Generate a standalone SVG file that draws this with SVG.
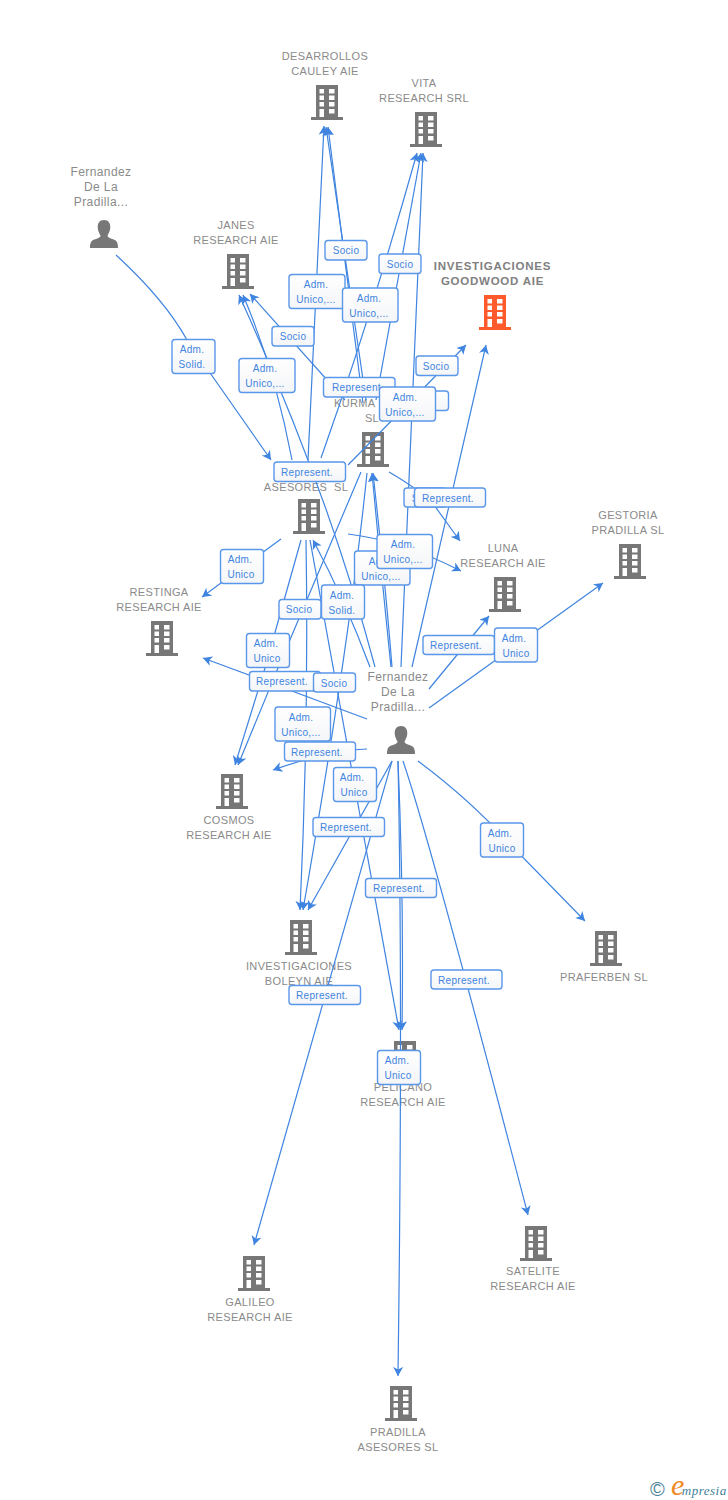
<svg xmlns="http://www.w3.org/2000/svg" width="728" height="1500" viewBox="0 0 728 1500">
<style>
text{font-family:"Liberation Sans",Arial,sans-serif}
.n{font-size:11px;fill:#8a8a8a;text-anchor:middle;letter-spacing:.35px;white-space:pre}
.m{font-size:12px;fill:#8a8a8a;text-anchor:middle;letter-spacing:.4px}
.nb{font-size:11.5px;fill:#808080;font-weight:bold;text-anchor:middle;letter-spacing:.75px}
.c path{fill:none;stroke:#3f84e0;stroke-width:1.2;marker-end:url(#a)}
.l rect{fill:url(#g);stroke:#5a97ea;stroke-width:1.4}
.l text{font-size:10px;fill:#3f84e0;text-anchor:middle;letter-spacing:.3px}
</style>
<defs>
<marker id="a" markerUnits="userSpaceOnUse" markerWidth="11" markerHeight="11" refX="9" refY="5" orient="auto"><path d="M9,5L0,0L2.500,5L0,10Z" fill="#3f84e0"/></marker>
<linearGradient id="g" x1="0" y1="0" x2="0" y2="1"><stop offset="0" stop-color="#fff"/><stop offset="1" stop-color="#f4f5f7"/></linearGradient>
<path id="b" fill-rule="evenodd" d="M5,0H27V32H32V35H0V32H5ZM8.500,4V8.500H13V4ZM18,4V8.500H23.500V4ZM8.500,10.500V15H13V10.500ZM18,10.500V15H23.500V10.500ZM8.500,17V21.500H13V17ZM18,17V21.500H23.500V17ZM8.500,24V32H13V24ZM18,24V28.500H23.500V24Z"/>
<path id="u" d="M14,0C18.500,0 20.500,3.500 20.300,7.500C20.200,11 18.500,13.500 17.500,15.500C17.500,17.500 20,18.300 23,19.300C26.500,20.500 28,22 28,28H0C0,22 1.500,20.500 5,19.300C8,18.300 10.500,17.500 10.500,15.500C9.500,13.500 7.800,11 7.700,7.500C7.500,3.500 9.500,0 14,0Z"/>
</defs>
<g id="desarrollos" fill="#777"><use href="#b" x="311" y="85"/><text class="n" x="325" y="60">DESARROLLOS</text><text class="n" x="325" y="75">CAULEY AIE</text></g>
<g id="vita" fill="#777"><use href="#b" x="410" y="112"/><text class="n" x="424" y="87">VITA</text><text class="n" x="424" y="102">RESEARCH SRL</text></g>
<g id="janes" fill="#777"><use href="#b" x="222" y="254"/><text class="n" x="236" y="229">JANES</text><text class="n" x="236" y="244">RESEARCH AIE</text></g>
<g id="goodwood" fill="#ff5a2c"><use href="#b" x="479" y="295"/><text class="nb" x="492.500" y="270">INVESTIGACIONES</text><text class="nb" x="492.500" y="285">GOODWOOD AIE</text></g>
<g id="fernandez-top" fill="#777"><use href="#u" x="90" y="220"/><text class="m" x="101" y="176">Fernandez</text><text class="m" x="101" y="191">De La</text><text class="m" x="101" y="206">Pradilla...</text></g>
<g id="kurma" fill="#777"><use href="#b" x="357" y="432"/><text class="n" x="334" y="407" style="text-anchor:start">KURMA</text><text class="n" x="372" y="422">SL</text></g>
<g id="asesores" fill="#777"><use href="#b" x="293" y="499"/><text class="n" x="306" y="491">ASESORES  SL</text></g>
<g id="luna" fill="#777"><use href="#b" x="489" y="577"/><text class="n" x="503" y="552">LUNA</text><text class="n" x="503" y="567">RESEARCH AIE</text></g>
<g id="gestoria" fill="#777"><use href="#b" x="614" y="544"/><text class="n" x="628" y="519">GESTORIA</text><text class="n" x="628" y="534">PRADILLA SL</text></g>
<g id="restinga" fill="#777"><use href="#b" x="146" y="621"/><text class="n" x="159" y="596">RESTINGA</text><text class="n" x="159" y="611">RESEARCH AIE</text></g>
<g id="fernandez-main" fill="#777"><use href="#u" x="387" y="726"/><text class="m" x="398" y="681">Fernandez</text><text class="m" x="398" y="696">De La</text><text class="m" x="398" y="711">Pradilla...</text></g>
<g id="cosmos" fill="#777"><use href="#b" x="216" y="774"/><text class="n" x="229" y="824">COSMOS</text><text class="n" x="229" y="839">RESEARCH AIE</text></g>
<g id="boleyn" fill="#777"><use href="#b" x="285" y="920"/><text class="n" x="299" y="970">INVESTIGACIONES</text><text class="n" x="299" y="985">BOLEYN AIE</text></g>
<g id="pelicano" fill="#777"><use href="#b" x="389" y="1041"/><text class="n" x="403" y="1091">PELICANO</text><text class="n" x="403" y="1106">RESEARCH AIE</text></g>
<g id="praferben" fill="#777"><use href="#b" x="590" y="931"/><text class="n" x="604" y="981">PRAFERBEN SL</text></g>
<g id="satelite" fill="#777"><use href="#b" x="520" y="1226"/><text class="n" x="533" y="1275">SATELITE</text><text class="n" x="533" y="1290">RESEARCH AIE</text></g>
<g id="galileo" fill="#777"><use href="#b" x="238" y="1256"/><text class="n" x="250" y="1306">GALILEO</text><text class="n" x="250" y="1321">RESEARCH AIE</text></g>
<g id="pradilla" fill="#777"><use href="#b" x="385" y="1386"/><text class="n" x="398" y="1436">PRADILLA</text><text class="n" x="398" y="1451">ASESORES SL</text></g>
<g id="connectors" class="c">
<path d="M116,255Q165,300 187,340L271,460"/>
<path d="M292,460Q275,370 243,295"/>
<path d="M375,667Q328,490 239,295"/>
<path d="M345,400L250,294"/>
<path d="M308,460L324,126"/>
<path d="M321,458Q370,320 417,153"/>
<path d="M363,403L328,127"/>
<path d="M366,400Q345,260 326,127"/>
<path d="M376,400L421,153"/>
<path d="M391,667Q383,590 372,473"/>
<path d="M392,667Q386,590 373,473"/>
<path d="M401,667Q408,520 423,153"/>
<path d="M412,667L486,345"/>
<path d="M348,465L466,345"/>
<path d="M389,472Q420,490 434,505L460,541"/>
<path d="M348,534Q400,540 461,571"/>
<path d="M281,539L202,597"/>
<path d="M301,540L265,668L235,765"/>
<path d="M361,472L278,668L238,765"/>
<path d="M367,473Q350,640 303,910"/>
<path d="M306,540Q309,720 300,910"/>
<path d="M310,540L399,1030"/>
<path d="M370,667Q345,600 313,540"/>
<path d="M392,761L308,910"/>
<path d="M367,719L203,658"/>
<path d="M367,749Q330,750 273,770"/>
<path d="M392,761L254,1245"/>
<path d="M398,761Q404,900 402,1030"/>
<path d="M398,761Q403,1000 398,1376"/>
<path d="M403,761Q430,840 528,1215"/>
<path d="M418,761Q470,800 506,840L585,921"/>
<path d="M429,708L603,583"/>
<path d="M429,689L489,616"/>
<g class="l"><rect x="325" y="240.500" width="42" height="19.500" rx="3"/><text x="346" y="254">Socio</text></g>
<g class="l"><rect x="379" y="254" width="42" height="19.500" rx="3"/><text x="400" y="267.500">Socio</text></g>
<g class="l"><rect x="289" y="274.500" width="56" height="34" rx="3"/><text x="316" y="288">Adm.</text><text x="316" y="303">Unico,...</text></g>
<g class="l"><rect x="342.500" y="288" width="55.500" height="34" rx="3"/><text x="369" y="301.500">Adm.</text><text x="369" y="316.500">Unico,...</text></g>
<g class="l"><rect x="272" y="326.500" width="42" height="19.500" rx="3"/><text x="293" y="340">Socio</text></g>
<g class="l"><rect x="172" y="339.500" width="43" height="34" rx="3"/><text x="192" y="353">Adm.</text><text x="192" y="368">Solid.</text></g>
<g class="l"><rect x="239" y="358.500" width="56" height="34" rx="3"/><text x="265" y="372">Adm.</text><text x="265" y="387">Unico,...</text></g>
<g class="l"><rect x="323.500" y="377.500" width="71.500" height="19.500" rx="3"/><text x="358" y="391">Represent.</text></g>
<g class="l"><rect x="416" y="356" width="42" height="19.500" rx="3"/><text x="436" y="369.500">Socio</text></g>
<g class="l"><rect x="406" y="391" width="42.500" height="19.500" rx="3"/><text x="419" y="404.500">Socio</text></g>
<g class="l"><rect x="379.500" y="387" width="56" height="34" rx="3"/><text x="405" y="400.500">Adm.</text><text x="405" y="415.500">Unico,...</text></g>
<g class="l"><rect x="274" y="462" width="71.500" height="19.500" rx="3"/><text x="307" y="475.500">Represent.</text></g>
<g class="l"><rect x="404" y="488" width="42" height="19" rx="3"/><text x="425" y="501.500">Socio</text></g>
<g class="l"><rect x="414.500" y="488" width="71" height="19" rx="3"/><text x="448" y="501.500">Represent.</text></g>
<g class="l"><rect x="354.500" y="551" width="55.500" height="34" rx="3"/><text x="381" y="564.500">Adm.</text><text x="381" y="579.500">Unico,...</text></g>
<g class="l"><rect x="377" y="534.500" width="55.500" height="34" rx="3"/><text x="403" y="548">Adm.</text><text x="403" y="563">Unico,...</text></g>
<g class="l"><rect x="220.500" y="549.500" width="43" height="34" rx="3"/><text x="240" y="563">Adm.</text><text x="241" y="578">Unico</text></g>
<g class="l"><rect x="279" y="599.500" width="42" height="19.500" rx="3"/><text x="299" y="613">Socio</text></g>
<g class="l"><rect x="321.500" y="585" width="43" height="34" rx="3"/><text x="342" y="598.500">Adm.</text><text x="342" y="613.500">Solid.</text></g>
<g class="l"><rect x="246.500" y="633.500" width="43" height="34" rx="3"/><text x="266" y="647">Adm.</text><text x="267" y="662">Unico</text></g>
<g class="l"><rect x="249.500" y="671.500" width="71" height="19.500" rx="3"/><text x="282" y="685">Represent.</text></g>
<g class="l"><rect x="313.500" y="673" width="42" height="19" rx="3"/><text x="334" y="686.500">Socio</text></g>
<g class="l"><rect x="275" y="707" width="55.500" height="34" rx="3"/><text x="301" y="720.500">Adm.</text><text x="301" y="735.500">Unico,...</text></g>
<g class="l"><rect x="284.500" y="742" width="71" height="19" rx="3"/><text x="317" y="755.500">Represent.</text></g>
<g class="l"><rect x="333.500" y="767.500" width="43" height="34" rx="3"/><text x="352" y="781">Adm.</text><text x="354" y="796">Unico</text></g>
<g class="l"><rect x="313" y="817.500" width="71.500" height="19" rx="3"/><text x="346" y="831">Represent.</text></g>
<g class="l"><rect x="365.500" y="878.500" width="71" height="19" rx="3"/><text x="399" y="892">Represent.</text></g>
<g class="l"><rect x="423" y="635.500" width="71.500" height="19" rx="3"/><text x="456" y="649">Represent.</text></g>
<g class="l"><rect x="494.500" y="628" width="43" height="34" rx="3"/><text x="514" y="641.500">Adm.</text><text x="516" y="656.500">Unico</text></g>
<g class="l"><rect x="480.500" y="823" width="43" height="34" rx="3"/><text x="500" y="836.500">Adm.</text><text x="502" y="851.500">Unico</text></g>
<g class="l"><rect x="289" y="985.500" width="71.500" height="19" rx="3"/><text x="322" y="998.500">Represent.</text></g>
<g class="l"><rect x="431" y="970" width="71" height="19" rx="3"/><text x="464" y="983.500">Represent.</text></g>
<g class="l"><rect x="377.500" y="1050.500" width="43" height="34" rx="3"/><text x="397" y="1064">Adm.</text><text x="398" y="1079">Unico</text></g>
</g>
<g id="logo"><text x="650" y="1496" font-size="20" fill="#4b8199">©</text><text x="671" y="1495" style="font-family:'Liberation Serif',serif;font-style:italic" font-size="13" fill="#3f7f9c" letter-spacing=".5"><tspan font-size="30" fill="#f08a24">e</tspan><tspan dx="-3">mpresia</tspan></text></g>
</svg>
